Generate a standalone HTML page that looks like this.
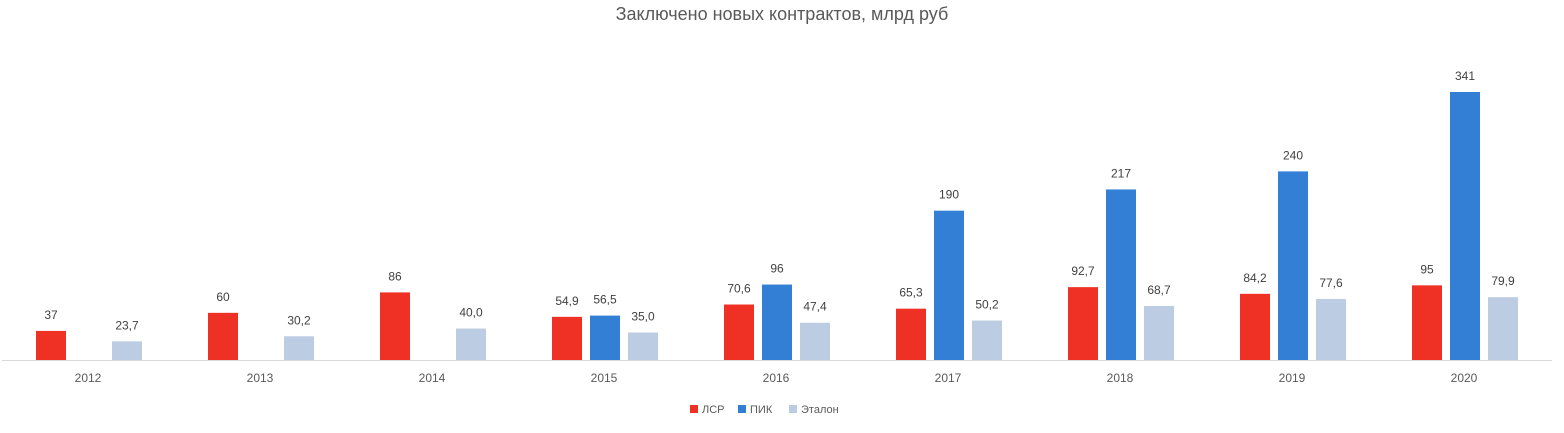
<!DOCTYPE html>
<html><head><meta charset="utf-8"><style>
body{margin:0;background:#fff;width:1564px;height:428px;overflow:hidden;font-family:"Liberation Sans",sans-serif}
</style></head><body>
<svg id="c" width="1564" height="428">
<text x="782" y="20" text-anchor="middle" font-size="18" fill="#595959">Заключено новых контрактов, млрд руб</text>
<line x1="2" y1="360.5" x2="1552" y2="360.5" stroke="#d9d9d9"/>
<g id="legend">
<rect x="690" y="405" width="8" height="8" fill="#ee3124"/>
<text x="702" y="413" font-size="11" fill="#595959">ЛСР</text>
<rect x="738" y="405" width="8" height="8" fill="#337fd6"/>
<text x="750" y="413" font-size="11" fill="#595959">ПИК</text>
<rect x="789" y="405" width="8" height="8" fill="#bccce3"/>
<text x="801" y="413" font-size="11" fill="#595959">Эталон</text>
</g>
</svg>
<script>
const years=["2012","2013","2014","2015","2016","2017","2018","2019","2020"];
const lsr=[37,60,86,54.9,70.6,65.3,92.7,84.2,95];
const pik=[null,null,null,56.5,96,190,217,240,341];
const etalon=[23.7,30.2,40.0,35.0,47.4,50.2,68.7,77.6,79.9];
const lsrLabels=["37","60","86","54,9","70,6","65,3","92,7","84,2","95"];
const pikLabels=["","","","56,5","96","190","217","240","341"];
const etalonLabels=["23,7","30,2","40,0","35,0","47,4","50,2","68,7","77,6","79,9"];
const svg=document.getElementById('c');
const NS="http://www.w3.org/2000/svg";
const base=360, k=268/341;
const xc=i=>88+i*172;
const y=v=>base-v*k;
function mk(t,a){const e=document.createElementNS(NS,t);for(const n in a)e.setAttribute(n,a[n]);svg.appendChild(e);return e;}
const series=[[lsr,lsrLabels,"#ee3124",-52,"lsr"],[pik,pikLabels,"#337fd6",-14,"pik"],[etalon,etalonLabels,"#bccce3",24,"etalon"]];
years.forEach((yr,i)=>{
  const t=mk('text',{x:xc(i),y:382,'text-anchor':'middle','font-size':12,fill:'#595959'});
  t.textContent=yr;
  
  
  series.forEach(s=>{
    const v=s[0][i]; if(v==null) return;
    const r=mk('rect',{x:xc(i)+s[3],y:y(v),width:30,height:v*k,fill:s[2]});
    
    
    const l=mk('text',{x:xc(i)+s[3]+15,y:y(v)-12,'text-anchor':'middle','font-size':12,fill:'#404040'});
    l.textContent=s[1][i];
    
    
  });
});
</script>
</body></html>
